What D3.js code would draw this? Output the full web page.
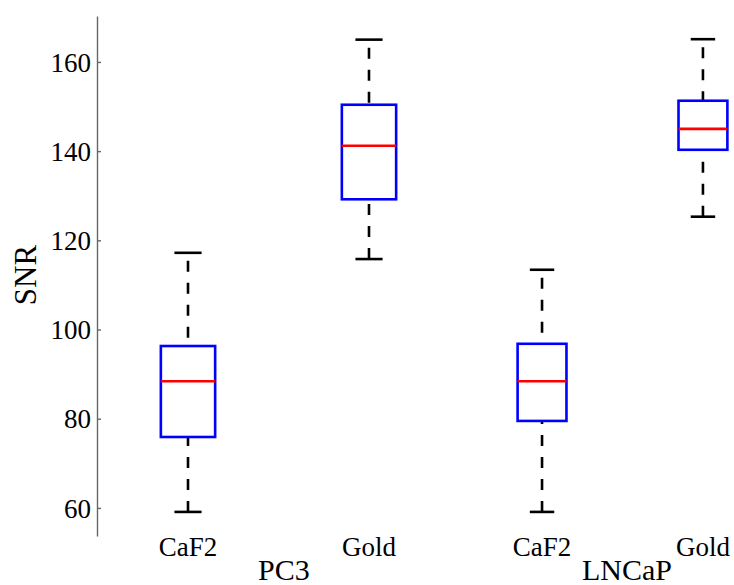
<!DOCTYPE html>
<html>
<head>
<meta charset="utf-8">
<script src="https://cdn.jsdelivr.net/npm/d3@7"></script>
<style>
  html, body { margin: 0; padding: 0; background: #fff; }
  svg { display: block; }
  text { font-family: "Liberation Serif", "Times New Roman", serif; fill: #000; }
</style>
</head>
<body>
<svg id="chart" width="734" height="585"></svg>
<script>
// Box-plot summary statistics for SNR, per substrate and cell line
const categories   = ["CaF2", "Gold", "CaF2", "Gold"];
const groups       = ["PC3", "PC3", "LNCaP", "LNCaP"];
const lowerWhisker = [59.1, 115.8, 59.1, 125.3];
const q1           = [75.9, 129.2, 79.5, 140.3];
const median       = [88.4, 141.2, 88.4, 145.0];
const q3           = [96.3, 150.4, 96.8, 151.3];
const upperWhisker = [117.2, 165.0, 113.4, 165.1];
const yTicks       = [60, 80, 100, 120, 140, 160];
const groupNames   = ["PC3", "LNCaP"];

// Layout: box centres along the x axis, box widths, and group-label anchors
const boxPositions = [1, 2, 2.956, 3.845];
const boxWidths    = [0.30, 0.30, 0.27, 0.27];
const groupAnchors = [1.53, 3.425];

const svg = d3.select("#chart");

const y = d3.scaleLinear().domain([53.7, 170.3]).range([536, 16]);
const x = d3.scaleLinear().domain([1, 2]).range([188, 369]);

const axisX = 97;
const lw = 2.6;

// Y axis: grey spine with inward ticks
const yAxis = d3.axisLeft(y).tickValues(yTicks).tickSizeInner(-4).tickSizeOuter(0).tickPadding(6);
const gy = svg.append("g").attr("transform", `translate(${axisX},0)`).call(yAxis);
gy.select(".domain").attr("stroke", "#666").attr("stroke-width", 1.4);
gy.selectAll(".tick line").attr("stroke", "#666").attr("stroke-width", 1.4);
gy.selectAll(".tick text")
  .attr("font-family", "Liberation Serif, serif")
  .attr("font-size", 27)
  .attr("dy", "0.34em")
  .attr("fill", "#000");

// Y axis title
svg.append("text")
  .attr("transform", "translate(36,275) rotate(-90)")
  .attr("text-anchor", "middle")
  .attr("font-size", 31)
  .text("SNR");

const data = categories.map((c, i) => ({
  cat: c, group: groups[i], pos: boxPositions[i], w: boxWidths[i],
  lo: lowerWhisker[i], q1: q1[i], med: median[i], q3: q3[i], hi: upperWhisker[i]
}));

const boxes = svg.append("g").selectAll("g").data(data).join("g");

const halfW = d => (x(d.pos + d.w / 2) - x(d.pos - d.w / 2)) / 2;

// Whiskers (dashed), drawn from caps toward the box
boxes.append("line")
  .attr("x1", d => x(d.pos)).attr("x2", d => x(d.pos))
  .attr("y1", d => y(d.hi)).attr("y2", d => y(d.q3))
  .attr("stroke", "#000").attr("stroke-width", lw)
  .attr("stroke-dasharray", "11,11").attr("stroke-dashoffset", -8);
boxes.append("line")
  .attr("x1", d => x(d.pos)).attr("x2", d => x(d.pos))
  .attr("y1", d => y(d.lo)).attr("y2", d => y(d.q1))
  .attr("stroke", "#000").attr("stroke-width", lw)
  .attr("stroke-dasharray", "11,11").attr("stroke-dashoffset", 0);

// Whisker caps
["hi", "lo"].forEach(k => {
  boxes.append("line")
    .attr("x1", d => x(d.pos) - halfW(d) / 2)
    .attr("x2", d => x(d.pos) + halfW(d) / 2)
    .attr("y1", d => y(d[k])).attr("y2", d => y(d[k]))
    .attr("stroke", "#000").attr("stroke-width", lw);
});

// Interquartile boxes
boxes.append("rect")
  .attr("x", d => x(d.pos) - halfW(d))
  .attr("width", d => 2 * halfW(d))
  .attr("y", d => y(d.q3))
  .attr("height", d => y(d.q1) - y(d.q3))
  .attr("fill", "none").attr("stroke", "#0000ff").attr("stroke-width", lw);

// Medians
boxes.append("line")
  .attr("x1", d => x(d.pos) - halfW(d)).attr("x2", d => x(d.pos) + halfW(d))
  .attr("y1", d => y(d.med)).attr("y2", d => y(d.med))
  .attr("stroke", "#ff0000").attr("stroke-width", lw);

// Category labels under each box
svg.append("g").selectAll("text").data(data).join("text")
  .attr("x", d => x(d.pos))
  .attr("y", 556)
  .attr("text-anchor", "middle")
  .attr("font-size", 27)
  .text(d => d.cat);

// Group labels
svg.append("g").selectAll("text").data(groupNames).join("text")
  .attr("x", (d, i) => x(groupAnchors[i]))
  .attr("y", 580)
  .attr("text-anchor", "middle")
  .attr("font-size", 30)
  .text(d => d);
</script>
</body>
</html>
